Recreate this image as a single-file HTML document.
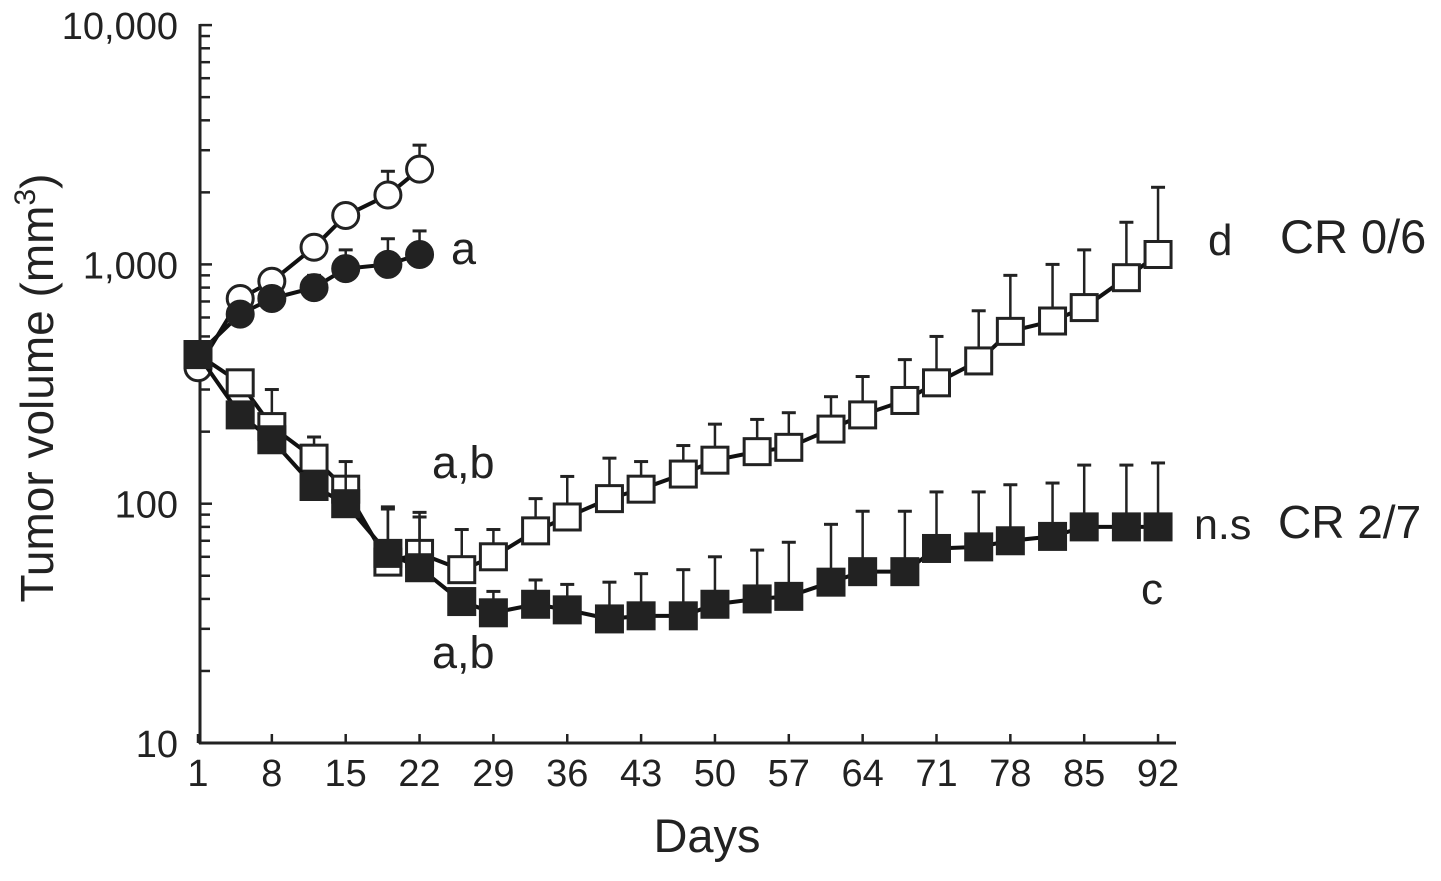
<!DOCTYPE html>
<html><head><meta charset="utf-8"><style>
body{margin:0;background:#fff}
svg{font-family:"Liberation Sans",Arial,sans-serif}
</style></head><body>
<svg id="chart" width="1441" height="876" viewBox="0 0 1441 876">
<g id="axes"></g>
<g id="marks"></g>
<text x="707" y="852" font-size="47" text-anchor="middle" fill="#222">Days</text>
<text transform="translate(53,388) rotate(-90)" font-size="46" text-anchor="middle" fill="#222">Tumor volume (mm<tspan dy="-18" font-size="30">3</tspan><tspan dy="18">)</tspan></text>
<text x="451" y="264" font-size="45" fill="#222">a</text>
<text x="432" y="478" font-size="45" fill="#222">a,b</text>
<text x="432" y="668" font-size="45" fill="#222">a,b</text>
<text x="1208" y="255" font-size="44" fill="#222">d</text>
<text x="1280" y="253" font-size="47" fill="#222">CR 0/6</text>
<text x="1194" y="539" font-size="43" fill="#222">n.s</text>
<text x="1278" y="538" font-size="46" fill="#222">CR 2/7</text>
<text x="1141" y="604" font-size="44" fill="#222">c</text>
</svg>
<script>
const xTicks=[1,8,15,22,29,36,43,50,57,64,71,78,85,92];
const yTickVals=[10,100,1000,10000];
const yTickLabels=["10","100","1,000","10,000"];
const sqDays=[1,5,8,12,15,19,22,26,29,33,36,40,43,47,50,54,57,61,64,68,71,75,78,82,85,89,92];
const openSq=[420,320,210,155,115,57,62,53,60,77,88,105,115,133,152,165,172,205,235,270,320,395,525,580,660,880,1100];
const openSqErr=[420,320,300,190,118,95,92,78,78,105,130,155,150,175,215,225,240,280,340,400,500,640,900,1000,1150,1500,2100];
const filledSq=[420,235,185,118,100,62,54,39,35,38,36,33,34,34,38,40,41,47,52,52,65,66,70,73,80,80,80];
const filledSqErr=[420,260,200,130,150,97,88,39,43,48,46,47,51,53,60,64,69,82,93,93,112,112,120,122,145,145,148];
const circDays=[1,5,8,12,15,19,22];
const openCirc=[370,720,850,1180,1600,1950,2500];
const openCircErr=[370,720,850,1180,1600,2450,3150];
const filledCirc=[420,620,720,800,960,1000,1100];
const filledCircErr=[420,620,720,900,1150,1280,1380];

const NS="http://www.w3.org/2000/svg";
const X0=198,XD=10.55,Y10=743,DEC=239.3;
const xs=d=>X0+(d-1)*XD;
const ys=v=>Y10-DEC*Math.log10(v/10);
function mk(tag,attrs,parent){const e=document.createElementNS(NS,tag);for(const k in attrs)e.setAttribute(k,attrs[k]);parent.appendChild(e);return e;}
const axes=document.getElementById('axes'),marks=document.getElementById('marks');
let l=mk('line',{x1:200,y1:24,x2:200,y2:744,stroke:'#222','stroke-width':3},axes);


l=mk('line',{x1:199,y1:743,x2:1176,y2:743,stroke:'#222','stroke-width':3},axes);


for(let dec=10;dec<10000;dec*=10){for(let m=2;m<=9;m++){const y=ys(dec*m);
 const t=mk('line',{x1:200,y1:y,x2:210,y2:y,stroke:'#222','stroke-width':2.5},axes);
 
 }}
yTickVals.forEach((v,i)=>{const y=ys(v);
 const t=mk('line',{x1:200,y1:y,x2:212,y2:y,stroke:'#222','stroke-width':2.5},axes);
 
 
 const tx=mk('text',{x:178,y:y+14,'font-size':38,'text-anchor':'end',fill:'#222'},axes);tx.textContent=yTickLabels[i];
 
 });
xTicks.forEach(d=>{const x=xs(d);
 const t=mk('line',{x1:x,y1:743,x2:x,y2:734,stroke:'#222','stroke-width':2.5},axes);
 
 
 const tx=mk('text',{x:x,y:786,'font-size':38,'text-anchor':'middle',fill:'#222'},axes);tx.textContent=d;
 
 });
function series(name,days,vals,errs,shape,fill){
 const g=mk('g',{},marks);
 
 
 days.forEach((d,i)=>{if(errs[i]>vals[i]){const x=xs(d),y1=ys(vals[i]),y2=ys(errs[i]);
  mk('line',{x1:x,y1:y1,x2:x,y2:y2,stroke:'#222','stroke-width':2.5},g);
  mk('line',{x1:x-7,y1:y2,x2:x+7,y2:y2,stroke:'#222','stroke-width':3},g);}});
 const pts=days.map((d,i)=>xs(d)+','+ys(vals[i])).join(' ');
 const pl=mk('polyline',{points:pts,fill:'none',stroke:'#111','stroke-width':4},g);
 
 
 days.forEach((d,i)=>{const x=xs(d),y=ys(vals[i]);let m;
  if(shape==='sq')m=mk('rect',{x:x-13,y:y-13,width:26,height:26,fill:fill,stroke:'#222','stroke-width':3},g);
  else m=mk('circle',{cx:x,cy:y,r:13,fill:fill,stroke:'#222','stroke-width':3},g);
  
  });
}
series('open-circle-series',circDays,openCirc,openCircErr,'c','#fff');
series('filled-circle-series',circDays,filledCirc,filledCircErr,'c','#222');
series('open-square-series',sqDays,openSq,openSqErr,'sq','#fff');
series('filled-square-series',sqDays,filledSq,filledSqErr,'sq','#222');
</script>
</body></html>
